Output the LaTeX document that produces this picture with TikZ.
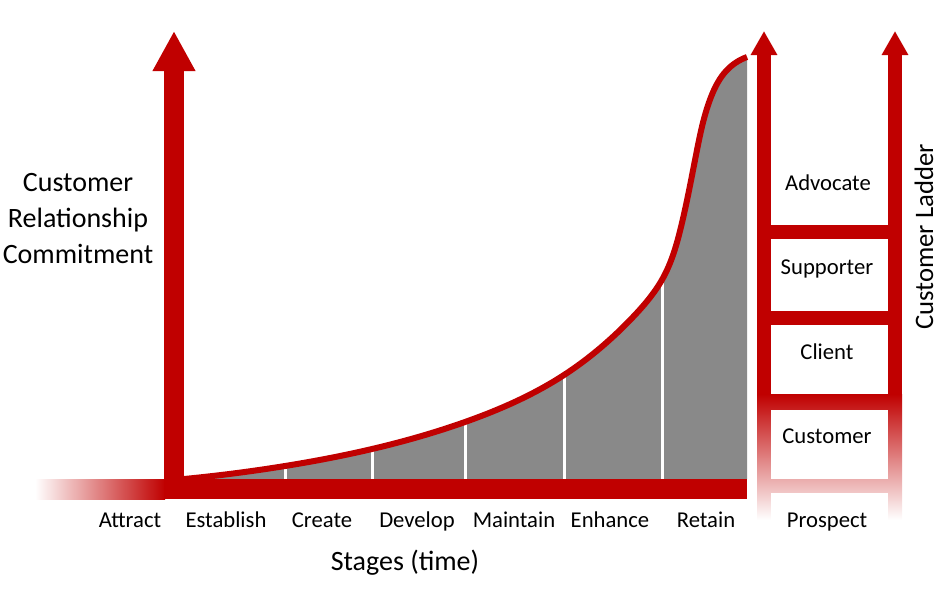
\documentclass[tikz,border=0pt]{standalone}
\usepackage{fontspec}
\setmainfont{Carlito}
\usepackage{tikz}
\usetikzlibrary{arrows.meta}
\usetikzlibrary{hobby}

\definecolor{ladred}{HTML}{C00000}
\definecolor{areagray}{HTML}{898989}

\newcommand{\commitcurve}{(184,479) .. (285,466) .. (372,449) .. (465,422) .. (564,375) .. (633,317) .. (663,278) .. (681,227) .. (697,150) .. (711,97) .. (727,70) .. (747,57)}

\begin{document}
\begin{tikzpicture}
[
    x=0.75pt, y=-0.75pt, use Hobby shortcut,
    axis/.style={draw=ladred, line width=15pt, -{Triangle[width=30pt,length=30pt]}},        % axis = big arrow
    rail/.style={draw=ladred, line width=10.5pt, -{Triangle[width=18.75pt,length=18pt]}},  % rail = ladder side
    sep/.style={draw=white, line width=2.25pt},
    stage/.style={font=\fontsize{17}{20}\selectfont, anchor=base},
    big/.style={font=\fontsize{21}{25}\selectfont, anchor=base},
]
\useasboundingbox (0,0) rectangle (951,590);

\coordinate (o) at (174,489);
\coordinate (ytop) at (174,31);
\coordinate (lfoot) at (764,395);
\coordinate (ltop) at (764,31);
\coordinate (rfoot) at (895,395);
\coordinate (rtop) at (895,31);

% area under the curve
\fill[areagray] \commitcurve -- (747,479) -- cycle;
\foreach \x/\y in {285/466, 372/449, 465/422, 564/375, 662/279}
    \draw[sep] (\x,479) -- (\x,\y);
\draw[ladred, line width=4.5pt] \commitcurve;

% time axis
\shade[left color=white, right color=ladred] (35,479) rectangle (165,499);
\fill[ladred] (164,479) rectangle (747,499);
\draw[axis] (o) -- (ytop);

% ladder
\shade[top color=ladred, middle color=ladred!40, bottom color=white] (757,394) rectangle (902,520);
\fill[white] (771,410) rectangle (888,479);
\fill[white] (771,493) rectangle (888,521);
\draw[rail] (lfoot) -- (ltop);
\draw[rail] (rfoot) -- (rtop);
\fill[ladred] (770,225) rectangle (889,239);
\fill[ladred] (770,311) rectangle (889,325);

% labels
\node[big] (cr1) at (78,191) {Customer};
\node[big] (cr2) at (78,227) {Relationship};
\node[big] (cr3) at (78,263) {Commitment};

\node[stage] (attract) at (130,527) {Attract};
\node[stage] (establish) at (226,527) {Establish};
\node[stage] (create) at (322,527) {Create};
\node[stage] (develop) at (417,527) {Develop};
\node[stage] (maintain) at (514,527) {Maintain};
\node[stage] (enhance) at (610,527) {Enhance};
\node[stage] (retain) at (706,527) {Retain};
\node[stage] (prospect) at (827,527) {Prospect};

\node[stage] (advocate) at (828,190) {Advocate};
\node[stage] (supporter) at (827,274) {Supporter};
\node[stage] (client) at (827,359) {Client};
\node[stage] (customer) at (827,443) {Customer};

\node[big] (stages) at (405,570) {Stages (time)};
\node[big, font=\fontsize{20}{24}\selectfont, rotate=90] (ladder) at (933,237) {Customer Ladder};
\end{tikzpicture}
\end{document}
